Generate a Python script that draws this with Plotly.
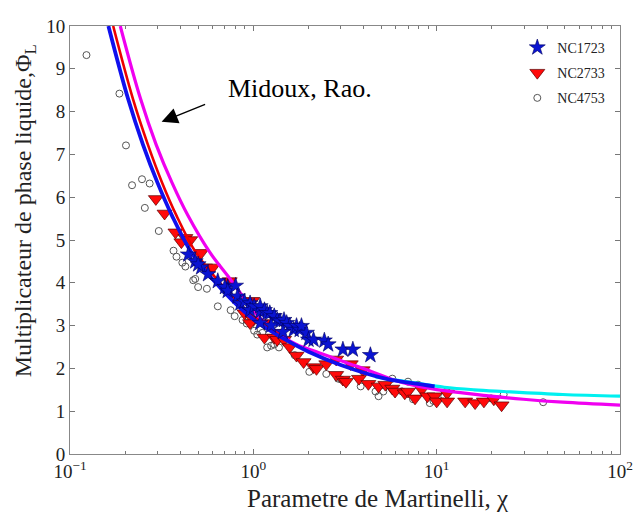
import numpy as np
import plotly.graph_objects as go

# ---------------- data ----------------
nc1723_x = [0.442, 0.482, 0.519, 0.566, 0.64, 0.725, 0.50, 0.70, 0.725, 0.80, 0.82, 0.85, 0.895,
            0.96, 0.96, 1.01, 1.09, 1.09, 1.15, 1.19, 1.23, 1.30, 1.35, 1.40, 1.47, 1.52, 1.58,
            1.66, 1.72, 1.79, 1.83, 1.95, 2.0, 2.13, 2.44, 2.56, 3.08, 3.49, 4.35, 1.09, 1.25, 1.45]
nc1723_y = [4.66, 4.50, 4.36, 4.20, 4.04, 3.90, 4.43, 3.90, 3.81, 3.93, 3.68, 3.52, 3.56,
            3.52, 3.36, 3.45, 3.33, 3.45, 3.36, 3.29, 3.29, 3.22, 3.13, 3.10, 3.13, 3.06, 2.99,
            2.90, 2.99, 2.90, 2.99, 2.83, 2.67, 2.67, 2.65, 2.56, 2.44, 2.44, 2.31, 3.06, 3.00, 2.85]

nc2733_x = [0.294, 0.328, 0.376, 0.426, 0.405, 0.453, 0.519, 0.545, 0.60, 0.743, 0.988, 0.895,
            1.0, 1.15, 0.96, 1.15, 1.30, 1.35, 1.40, 1.47, 1.58, 1.72, 1.88, 2.13, 2.21, 2.50,
            2.83, 3.40, 3.95, 2.83, 3.08, 3.20, 3.77, 4.24, 4.82, 5.25, 5.73, 5.93, 6.7, 6.98,
            7.62, 8.3, 8.9, 9.75, 10.0, 11.4, 11.4, 14.3, 16.2, 18.1, 20.5, 22.6]
nc2733_y = [5.96, 5.62, 5.18, 5.05, 4.95, 5.00, 4.70, 4.36, 4.36, 4.04, 3.58, 3.29,
            3.13, 3.06, 3.06, 2.72, 2.72, 2.67, 2.83, 2.67, 2.50, 2.30, 2.15, 2.03, 1.99, 2.10,
            2.21, 2.10, 1.96, 1.85, 1.74, 1.69, 1.76, 1.64, 1.58, 1.62, 1.53, 1.46, 1.42, 1.46,
            1.30, 1.51, 1.35, 1.35, 1.23, 1.42, 1.23, 1.23, 1.19, 1.23, 1.28, 1.14]

nc4753_x = [0.123, 0.186, 0.202, 0.218, 0.247, 0.272, 0.256, 0.305, 0.367, 0.381, 0.410, 0.426,
            0.470, 0.482, 0.500, 0.558, 0.640, 0.752, 0.791, 0.873, 0.92, 1.01, 1.05, 1.12,
            1.19, 1.25, 1.30, 1.38, 1.68, 2.02, 2.50, 2.90, 3.01, 3.85, 4.64, 4.82, 5.12, 5.73,
            6.48, 6.98, 7.43, 7.91, 9.17, 9.6, 11.0, 11.3, 19.8, 23.2, 38.1]
nc4753_y = [9.32, 8.42, 7.21, 6.28, 6.42, 6.32, 5.75, 5.21, 4.75, 4.61, 4.47, 4.38,
            4.06, 4.09, 3.90, 3.86, 3.45, 3.36, 3.22, 3.13, 3.05, 2.88, 2.79, 2.83,
            2.49, 2.53, 2.56, 2.49, 2.31, 1.92, 1.87, 1.76, 1.74, 1.58, 1.46, 1.35, 1.46, 1.76,
            1.46, 1.69, 1.28, 1.62, 1.19, 1.24, 1.35, 1.46, 1.30, 1.39, 1.21]

# correlation curves
blue_x = [0.162, 0.207, 0.25, 0.30, 0.36, 0.458, 0.6, 0.78, 1.0, 1.4, 2.0, 3.0, 5.25, 7.5, 9.75]
blue_y = [10.0, 8.31, 7.23, 6.34, 5.57, 4.72, 4.08, 3.56, 3.15, 2.74, 2.39, 2.08, 1.76, 1.65, 1.58]

red_x = [0.172, 0.22, 0.266, 0.318, 0.381, 0.484, 0.633, 0.82, 1.04, 1.45]
red_y = [10.0, 8.31, 7.23, 6.34, 5.57, 4.72, 4.08, 3.56, 3.15, 2.74]

magenta_x = [0.188, 0.242, 0.295, 0.36, 0.44, 0.577, 0.75, 0.92, 1.10, 1.46, 1.72, 2.3, 3.2,
             4.4, 5.94, 8.0, 11.0, 18.0, 29.7, 48.7, 100.0]
magenta_y = [10.0, 8.31, 7.23, 6.34, 5.57, 4.72, 4.08, 3.56, 3.15, 2.74, 2.56, 2.36, 2.14,
             1.93, 1.72, 1.58, 1.48, 1.37, 1.28, 1.21, 1.14]

cyan_x = [4.64, 7.62, 11.0, 16.0, 23.2, 48.7, 100.0]
cyan_y = [1.80, 1.66, 1.56, 1.50, 1.46, 1.39, 1.35]

xtick_vals = [0.1, 1, 10, 100]
xtick_text = ["10<sup>\u22121</sup>", "10<sup>0</sup>", "10<sup>1</sup>", "10<sup>2</sup>"]
ytick_vals = [0, 1, 2, 3, 4, 5, 6, 7, 8, 9, 10]

# ---------------- figure ----------------
SERIF = "Liberation Serif, Times New Roman, serif"
W, H = 633, 507            # page body has an 8px margin
L, R, T, B = 62, 14, 8, 61
PW, PH = W - L - R, H - T - B

fig = go.Figure()

fig.add_trace(go.Scatter(x=nc4753_x, y=nc4753_y, mode="markers", name="NC4753",
                         legendgroup="c", legendrank=3,
                         marker=dict(symbol="circle-open", size=7, color="#555555",
                                     line=dict(width=1, color="#555555"))))
fig.add_trace(go.Scatter(x=nc2733_x, y=nc2733_y, mode="markers", name="NC2733",
                         legendgroup="b", legendrank=2,
                         marker=dict(symbol="triangle-down", size=13, color="#ff0a0a",
                                     line=dict(width=0.7, color="#5a0000"))))

line_specs = [(cyan_x, cyan_y, "#00f0f0", 3.2),
              (magenta_x, magenta_y, "#f000f0", 3.2),
              (red_x, red_y, "#ee0000", 2.6),
              (blue_x, blue_y, "#1010ee", 3.8)]
for lx, ly, col, w in line_specs:
    fig.add_trace(go.Scatter(x=lx, y=ly, mode="lines", showlegend=False, hoverinfo="skip",
                             line=dict(color=col, width=w, shape="spline", smoothing=1.0)))

fig.add_trace(go.Scatter(x=nc1723_x, y=nc1723_y, mode="markers", name="NC1723",
                         legendgroup="a", legendrank=1,
                         marker=dict(symbol="star", size=12, color="#0a14d2",
                                     line=dict(width=0.6, color="#000060"))))

fig.update_xaxes(type="log", range=[-1, 2], tickmode="array", tickvals=xtick_vals,
                 ticktext=xtick_text, ticks="inside", ticklen=5, tickcolor="#777",
                 showline=True, linecolor="#888", linewidth=1, mirror="allticks",
                 showgrid=False, zeroline=False, ticklabeloverflow="allow",
                 tickfont=dict(family=SERIF, size=19, color="#222"),
                 minor=dict(ticks="inside", ticklen=3, tickcolor="#777",
                            tickmode="array",
                            tickvals=[m * d for d in (0.1, 1, 10) for m in range(2, 10)]))
fig.update_yaxes(range=[0, 10], tickmode="array", tickvals=ytick_vals,
                 ticks="inside", ticklen=5, tickcolor="#777",
                 showline=True, linecolor="#888", linewidth=1, mirror="allticks",
                 showgrid=False, zeroline=False, ticklabeloverflow="allow",
                 tickfont=dict(family=SERIF, size=19, color="#222"))

fig.add_annotation(x=np.log10(0.316), y=7.76, ax=45, ay=-18, xref="x", yref="y",
                   text="", showarrow=True, arrowhead=2, arrowsize=2.3, arrowwidth=1.4,
                   arrowcolor="black")
fig.add_annotation(x=np.log10(0.71), y=8.54, xref="x", yref="y", text="Midoux, Rao.",
                   showarrow=False, xanchor="left", yanchor="middle",
                   font=dict(family=SERIF, size=26, color="black"))
fig.add_annotation(x=(381 - 70) / PW, y=(PH - (H - T)) / PH, xref="paper", yref="paper",
                   text="Parametre de Martinelli, \u03c7", showarrow=False,
                   xanchor="center", yanchor="bottom",
                   font=dict(family=SERIF, size=25, color="#222"))
fig.add_annotation(x=(24 - 70) / PW, y=(454 - 205) / PH, xref="paper", yref="paper",
                   text="Multiplicateur de phase liquide,\u03a6<sub>L</sub>", showarrow=False,
                   textangle=-90, xanchor="center", yanchor="middle",
                   font=dict(family=SERIF, size=24, color="#222"))

fig.update_layout(
    width=W, height=H,
    margin=dict(l=L, r=R, t=T, b=B),
    paper_bgcolor="white", plot_bgcolor="white",
    showlegend=True,
    legend=dict(x=(523 - 70) / PW, y=1 - (22 - 16) / PH, xanchor="left", yanchor="top",
                bgcolor="rgba(0,0,0,0)",
                font=dict(family=SERIF, size=14, color="#222"), tracegroupgap=4,
                traceorder="grouped"),
)

fig.write_html("out.html")
